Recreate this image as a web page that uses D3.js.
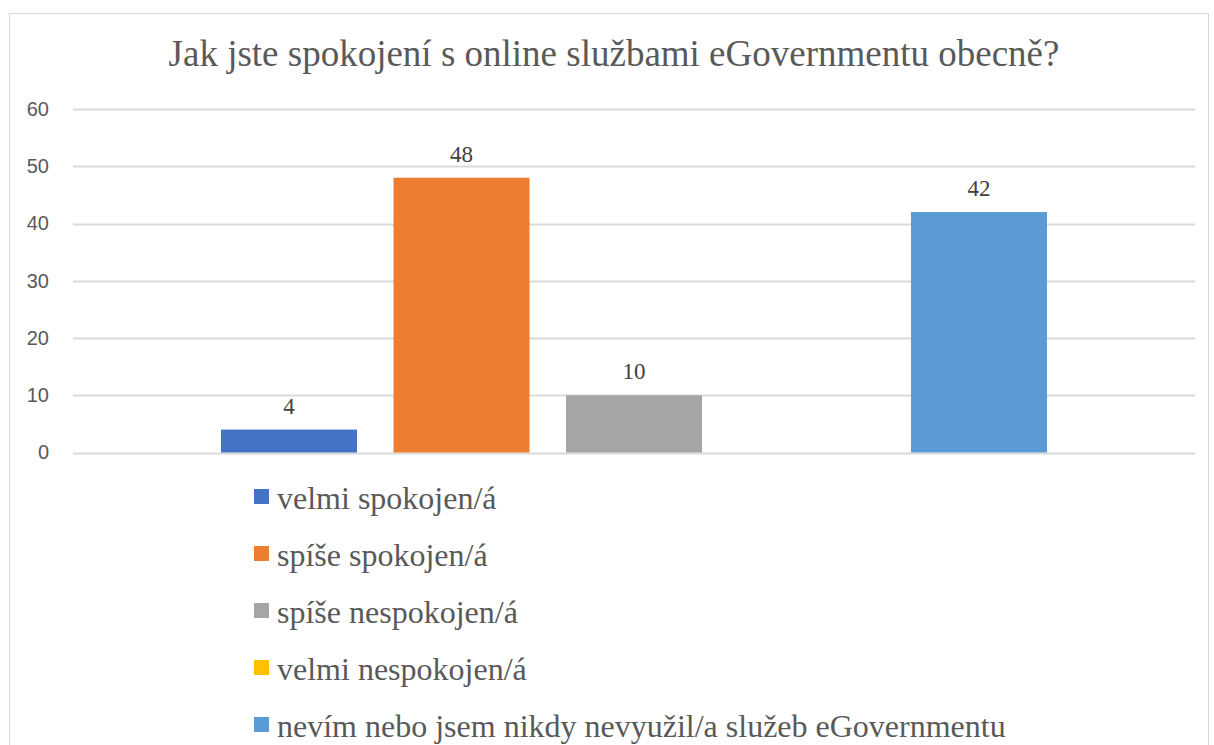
<!DOCTYPE html>
<html>
<head>
<meta charset="utf-8">
<script src="https://cdn.jsdelivr.net/npm/d3@7"></script>
<style>
  body { margin: 0; background: #fff; }
  svg { display: block; }
</style>
</head>
<body>
<script>
// answers and counts
var categories = ["velmi spokojen/á", "spíše spokojen/á", "spíše nespokojen/á", "velmi nespokojen/á", "nevím nebo jsem nikdy nevyužil/a služeb eGovernmentu"];
var values = [4, 48, 10, 0, 42];
var colors = ["#4472C4", "#ED7D31", "#A5A5A5", "#FFC000", "#5B9BD5"];
var yTicks = [0, 10, 20, 30, 40, 50, 60];
var title = "Jak jste spokojení s online službami eGovernmentu obecně?";

var serif = "'Liberation Serif', 'Times New Roman', serif";
var width = 1214;
var height = 745;
var margin = {top: 109, right: 19, bottom: 292.5, left: 73};

var svg = d3.select("body")
    .append("svg")
    .attr("width", width)
    .attr("height", height);

// chart frame (bottom runs off the page)
svg.append("rect")
    .attr("x", 9.5)
    .attr("y", 13.5)
    .attr("width", 1199)
    .attr("height", 760)
    .attr("fill", "none")
    .attr("stroke", "#d9d9d9")
    .attr("stroke-width", 1);

svg.append("text")
    .attr("x", 614)
    .attr("y", 66)
    .attr("text-anchor", "middle")
    .style("font-family", serif)
    .style("font-size", "37px")
    .style("fill", "#595959")
    .text(title);

var g = svg.append("g")
    .attr("transform", "translate(" + margin.left + "," + margin.top + ")");

var w = width - margin.left - margin.right;
var h = height - margin.top - margin.bottom;

var x = d3.scaleBand()
    .domain(categories)
    .range([0, w])
    .paddingInner(0.2116)
    .paddingOuter(0.858);

var y = d3.scaleLinear()
    .domain([0, 60])
    .range([h, 0]);

// gridlines
g.append("g")
    .selectAll("line")
    .data(yTicks)
    .enter()
    .append("line")
    .attr("x1", 0)
    .attr("x2", w)
    .attr("y1", function (d) { return Math.round(y(d)) + 0.5; })
    .attr("y2", function (d) { return Math.round(y(d)) + 0.5; })
    .attr("stroke", "#d9d9d9")
    .attr("stroke-width", 2);

// y axis labels
var yAxis = g.append("g")
    .attr("transform", "translate(-24,0)")
    .call(d3.axisLeft(y).tickValues(yTicks).tickSize(0).tickPadding(0));
yAxis.select(".domain").remove();
yAxis.selectAll("text")
    .style("font-family", "'Liberation Sans', Arial, sans-serif")
    .style("font-size", "20px")
    .style("fill", "#595959");

// bars
g.append("g")
    .selectAll("rect")
    .data(values)
    .enter()
    .append("rect")
    .attr("x", function (d, i) { return x(categories[i]); })
    .attr("y", function (d) { return y(d); })
    .attr("width", x.bandwidth())
    .attr("height", function (d) { return h - y(d); })
    .attr("fill", function (d, i) { return colors[i]; });

// value labels (zero is left unlabeled)
var labelIdx = d3.range(values.length).filter(function (i) { return values[i] > 0; });
g.append("g")
    .selectAll("text")
    .data(labelIdx)
    .enter()
    .append("text")
    .attr("x", function (i) { return x(categories[i]) + x.bandwidth() / 2; })
    .attr("y", function (i) { return y(values[i]) - 16; })
    .attr("text-anchor", "middle")
    .style("font-family", serif)
    .style("font-size", "23px")
    .style("fill", "#404040")
    .text(function (i) { return values[i]; });

// legend
var legend = svg.append("g")
    .attr("transform", "translate(254,497)");

var item = legend.selectAll("g")
    .data(categories)
    .enter()
    .append("g")
    .attr("transform", function (d, i) { return "translate(0," + (i * 57) + ")"; });

item.append("rect")
    .attr("x", 0)
    .attr("y", -8)
    .attr("width", 15)
    .attr("height", 15)
    .attr("fill", function (d, i) { return colors[i]; });

item.append("text")
    .attr("x", 23)
    .attr("y", 12)
    .style("font-family", serif)
    .style("font-size", "32px")
    .style("fill", "#595959")
    .text(function (d) { return d; });
</script>
</body>
</html>
